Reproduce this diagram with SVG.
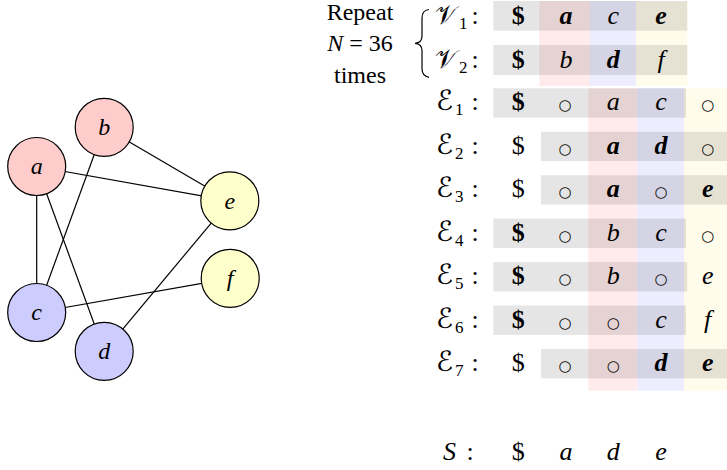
<svg xmlns="http://www.w3.org/2000/svg" width="727" height="470" viewBox="0 0 727 470">
<style>
.t{font-family:'Liberation Serif','DejaVu Serif','DejaVu Sans',serif;font-size:26px;fill:#000}
.n{font-size:24px}
.i{font-style:italic}
.b{font-weight:bold}
.c{text-anchor:middle}
.sc{font-size:28px}
.sub{font-size:17px}
.ring{font-family:'DejaVu Sans',sans-serif;font-size:15px;text-anchor:middle}
.node{stroke:#000;stroke-width:1.2}
.red{fill:#ffcccc}.blue{fill:#ccccff}.yel{fill:#ffffcc}
.bp{fill:#ffebeb}.bl{fill:#ededff}.by{fill:#fffcec}
.g{fill:#000;fill-opacity:0.1}
.edge{stroke:#000;stroke-width:1.2}
</style>
<g id="connectors">
<line class="edge" x1="36.7" y1="166.5" x2="36.7" y2="312.5"/>
<line class="edge" x1="36.7" y1="166.5" x2="104.2" y2="351.3"/>
<line class="edge" x1="36.7" y1="166.5" x2="229.8" y2="200.8"/>
<line class="edge" x1="104.2" y1="127.3" x2="36.7" y2="312.5"/>
<line class="edge" x1="104.2" y1="127.3" x2="229.8" y2="200.8"/>
<line class="edge" x1="36.7" y1="312.5" x2="230.2" y2="278.3"/>
<line class="edge" x1="104.2" y1="351.3" x2="229.8" y2="200.8"/>
</g>
<g id="node-a"><circle class="node red" cx="36.7" cy="166.5" r="29"/><text class="t n i c" x="36.7" y="174">a</text></g>
<g id="node-b"><circle class="node red" cx="104.2" cy="127.3" r="29"/><text class="t n i c" x="104.2" y="135">b</text></g>
<g id="node-c"><circle class="node blue" cx="36.7" cy="312.5" r="29"/><text class="t n i c" x="36.7" y="320">c</text></g>
<g id="node-d"><circle class="node blue" cx="104.2" cy="351.3" r="29"/><text class="t n i c" x="104.2" y="359">d</text></g>
<g id="node-e"><circle class="node yel" cx="229.8" cy="200.8" r="29"/><text class="t n i c" x="229.8" y="208.5">e</text></g>
<g id="node-f"><circle class="node yel" cx="230.2" cy="278.3" r="29"/><text class="t n i c" x="230.2" y="286">f</text></g>

<g id="repeat-label">
<text class="t n c" x="360" y="19.5">Repeat</text>
<text class="t n c" x="360" y="51"><tspan class="i">N</tspan> = 36</text>
<text class="t n c" x="360" y="82.5">times</text>
<path d="M429 9.5 C424.5 10 422 13 422 18 L422 36 C422 40 419.5 43 415 43.3 C419.5 43.6 422 46.6 422 50.6 L422 68.6 C422 73.6 424.5 76.6 429 77.3" fill="none" stroke="#000" stroke-width="1.2"/>
</g>

<g id="bands">
<rect class="bp" x="539.3" y="1" width="50.7" height="85"/>
<rect class="bl" x="590" y="1" width="46" height="85"/>
<rect class="by" x="636" y="1" width="51.3" height="85"/>
<rect class="bp" x="588.3" y="88.3" width="49" height="302.4"/>
<rect class="bl" x="637.3" y="88.3" width="46.7" height="302.4"/>
<rect class="by" x="684" y="88.3" width="43" height="302.4"/>
</g>
<g id="row-highlights">
<rect class="g" x="493.3" y="1" width="194" height="29.7"/>
<rect class="g" x="493.3" y="45" width="194" height="30"/>
<rect class="g" x="493.3" y="88.3" width="192.7" height="29.4"/>
<rect class="g" x="541" y="131.75" width="186" height="29.4"/>
<rect class="g" x="541" y="175.2" width="186" height="29.4"/>
<rect class="g" x="493.3" y="218.65" width="192.7" height="29.4"/>
<rect class="g" x="493.3" y="262.1" width="194" height="29.4"/>
<rect class="g" x="493.3" y="305.55" width="192.7" height="29.4"/>
<rect class="g" x="541" y="349" width="186" height="29.4"/>
</g>

<g id="row-V1">
<text class="t" x="435" y="24">𝒱</text>
<text class="t sub" x="459" y="29">1</text>
<text class="t c" x="475" y="24">:</text>
<text class="t b c" x="518.3" y="24">$</text>
<text class="t b i c" x="566" y="24">a</text>
<text class="t i c" x="613.3" y="24">c</text>
<text class="t b i c" x="661" y="24">e</text>
</g>
<g id="row-V2">
<text class="t" x="435" y="68">𝒱</text>
<text class="t sub" x="459" y="73">2</text>
<text class="t c" x="475" y="68">:</text>
<text class="t b c" x="518.3" y="68">$</text>
<text class="t i c" x="566" y="68">b</text>
<text class="t b i c" x="613.3" y="68">d</text>
<text class="t i c" x="661" y="68">f</text>
</g>

<g id="row-E1">
<text class="t sc" x="436" y="110.3">ℰ</text><text class="t sub" x="455" y="115.3">1</text>
<text class="t c" x="475" y="110.3">:</text>
<text class="t b c" x="518.3" y="110.3">$</text>
<text class="t ring" x="565" y="110.3">○</text>
<text class="t i c" x="613.3" y="110.3">a</text>
<text class="t i c" x="661" y="110.3">c</text>
<text class="t ring" x="707.7" y="110.3">○</text>
</g>
<g id="row-E2">
<text class="t sc" x="436" y="153.75">ℰ</text><text class="t sub" x="455" y="158.75">2</text>
<text class="t c" x="475" y="153.75">:</text>
<text class="t c" x="518.3" y="153.75">$</text>
<text class="t ring" x="565" y="153.75">○</text>
<text class="t b i c" x="613.3" y="153.75">a</text>
<text class="t b i c" x="661" y="153.75">d</text>
<text class="t ring" x="707.7" y="153.75">○</text>
</g>
<g id="row-E3">
<text class="t sc" x="436" y="197.2">ℰ</text><text class="t sub" x="455" y="202.2">3</text>
<text class="t c" x="475" y="197.2">:</text>
<text class="t c" x="518.3" y="197.2">$</text>
<text class="t ring" x="565" y="197.2">○</text>
<text class="t b i c" x="613.3" y="197.2">a</text>
<text class="t ring" x="661" y="197.2">○</text>
<text class="t b i c" x="707.7" y="197.2">e</text>
</g>
<g id="row-E4">
<text class="t sc" x="436" y="240.65">ℰ</text><text class="t sub" x="455" y="245.65">4</text>
<text class="t c" x="475" y="240.65">:</text>
<text class="t b c" x="518.3" y="240.65">$</text>
<text class="t ring" x="565" y="240.65">○</text>
<text class="t i c" x="613.3" y="240.65">b</text>
<text class="t i c" x="661" y="240.65">c</text>
<text class="t ring" x="707.7" y="240.65">○</text>
</g>
<g id="row-E5">
<text class="t sc" x="436" y="284.1">ℰ</text><text class="t sub" x="455" y="289.1">5</text>
<text class="t c" x="475" y="284.1">:</text>
<text class="t b c" x="518.3" y="284.1">$</text>
<text class="t ring" x="565" y="284.1">○</text>
<text class="t i c" x="613.3" y="284.1">b</text>
<text class="t ring" x="661" y="284.1">○</text>
<text class="t i c" x="707.7" y="284.1">e</text>
</g>
<g id="row-E6">
<text class="t sc" x="436" y="327.55">ℰ</text><text class="t sub" x="455" y="332.55">6</text>
<text class="t c" x="475" y="327.55">:</text>
<text class="t b c" x="518.3" y="327.55">$</text>
<text class="t ring" x="565" y="327.55">○</text>
<text class="t ring" x="613.3" y="327.55">○</text>
<text class="t i c" x="661" y="327.55">c</text>
<text class="t i c" x="707.7" y="327.55">f</text>
</g>
<g id="row-E7">
<text class="t sc" x="436" y="371">ℰ</text><text class="t sub" x="455" y="376">7</text>
<text class="t c" x="475" y="371">:</text>
<text class="t c" x="518.3" y="371">$</text>
<text class="t ring" x="565" y="371">○</text>
<text class="t ring" x="613.3" y="371">○</text>
<text class="t b i c" x="661" y="371">d</text>
<text class="t b i c" x="707.7" y="371">e</text>
</g>
<g id="row-S">
<text class="t i" x="443" y="460">S</text>
<text class="t c" x="470" y="460">:</text>
<text class="t c" x="518.3" y="460">$</text>
<text class="t i c" x="566" y="460">a</text>
<text class="t i c" x="613.3" y="460">d</text>
<text class="t i c" x="661" y="460">e</text>
</g>
</svg>
